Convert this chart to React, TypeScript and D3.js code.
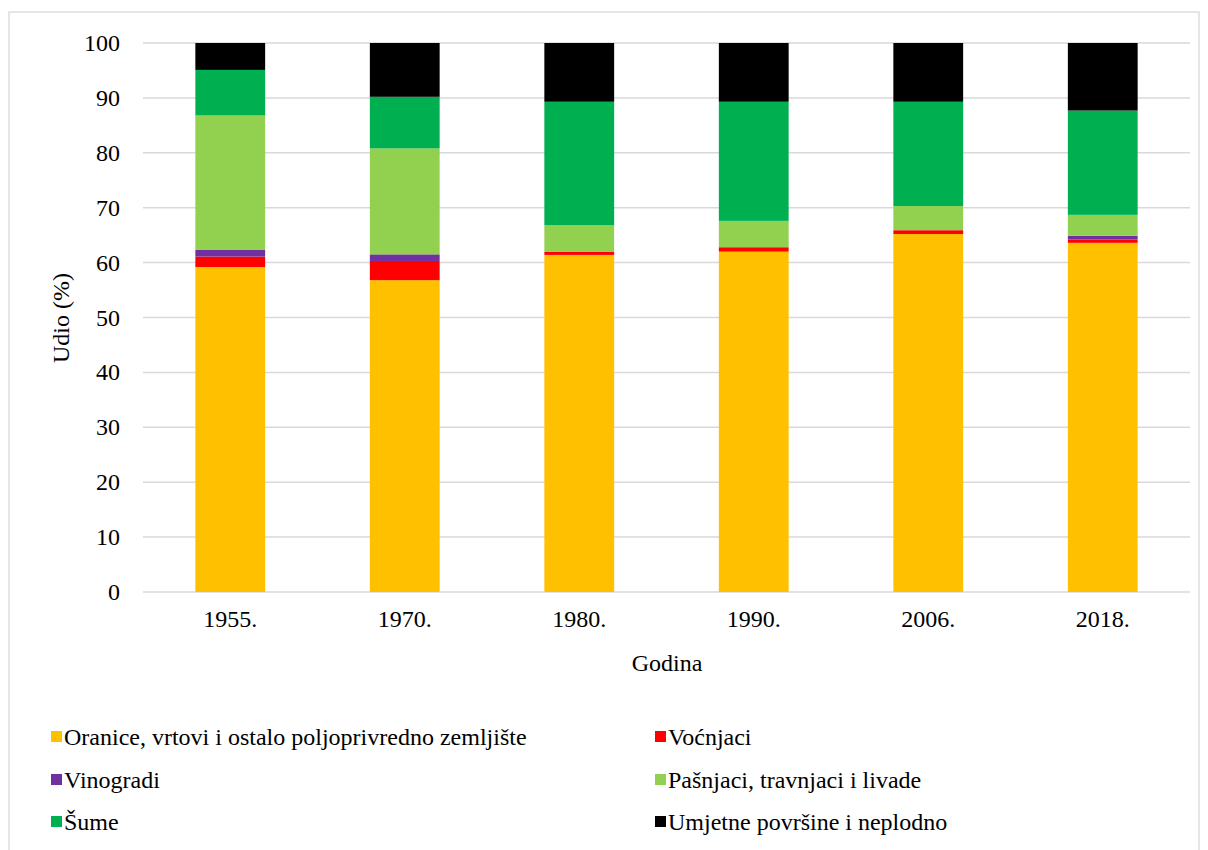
import React from "react";
import * as d3 from "d3";

const years = ["1955.", "1970.", "1980.", "1990.", "2006.", "2018."];
const oranice = [59.2, 56.8, 61.4, 62.0, 65.2, 63.6];
const vocnjaci = [1.9, 3.5, 0.6, 0.8, 0.7, 0.6];
const vinogradi = [1.2, 1.2, 0.0, 0.0, 0.0, 0.7];
const pasnjaci = [24.5, 19.3, 4.8, 4.8, 4.4, 3.8];
const sume = [8.3, 9.4, 22.5, 21.7, 19.0, 19.0];
const umjetne = [4.9, 9.8, 10.7, 10.7, 10.7, 12.3];
const yTicks = [0, 10, 20, 30, 40, 50, 60, 70, 80, 90, 100];

const seriesNames = [
  "Oranice, vrtovi i ostalo poljoprivredno zemljište",
  "Vo\u0107njaci",
  "Vinogradi",
  "Pa\u0161njaci, travnjaci i livade",
  "\u0160ume",
  "Umjetne povr\u0161ine i neplodno",
];
const seriesValues = [oranice, vocnjaci, vinogradi, pasnjaci, sume, umjetne];
const colors = ["#FFC000", "#FF0000", "#7030A0", "#92D050", "#00B050", "#000000"];

const fam = "Liberation Serif";

export default function App() {
  const W = 1208;
  const H = 850;
  const left = 143;
  const right = 1190;
  const top = 43;
  const bottom = 592;

  const x = d3.scaleBand<string>().domain(years).range([left, right]).paddingInner(0.6).paddingOuter(0.3);
  const y = d3.scaleLinear().domain([0, 100]).range([bottom, top]);

  const rows = years.map((yr, i) => {
    const r: any = { year: yr };
    seriesNames.forEach((s, k) => (r[s] = seriesValues[k][i]));
    return r;
  });
  const stack = d3.stack<any>().keys(seriesNames)(rows);

  return (
    <svg width={W} height={H}>
      <rect x={1} y={4} width={1190} height={840} fill="none" stroke="#d9d9d9" strokeWidth={1.3} />
      <g transform="translate(-8,-8)">
        {yTicks.map((t) => (
          <g key={t}>
            <line x1={left} x2={right} y1={y(t)} y2={y(t)} stroke="#d9d9d9" strokeWidth={1.5} />
            <text x={120} y={y(t) + 8} fontSize={24} textAnchor="end" style={{ fontFamily: `"${fam}"` }}>
              {t}
            </text>
          </g>
        ))}
        {stack.map((layer, k) => (
          <g key={k} fill={colors[k]}>
            {layer.map((d, i) => (
              <rect
                key={i}
                x={x(years[i])}
                width={x.bandwidth()}
                y={y(d[1])}
                height={Math.max(0, y(d[0]) - y(d[1]))}
              />
            ))}
          </g>
        ))}
        {years.map((yr) => (
          <text
            key={yr}
            x={(x(yr) as number) + x.bandwidth() / 2}
            y={627}
            fontSize={24}
            textAnchor="middle"
            style={{ fontFamily: `"${fam}"` }}
          >
            {yr}
          </text>
        ))}
        <text x={667} y={671} fontSize={24} textAnchor="middle" style={{ fontFamily: `"${fam}"` }}>
          Godina
        </text>
        <text
          transform={`translate(69,318) rotate(-90)`}
          fontSize={24}
          textAnchor="middle"
          style={{ fontFamily: `"${fam}"` }}
        >
          Udio (%)
        </text>
        {seriesNames.map((s, k) => {
          const col = k % 2;
          const row = Math.floor(k / 2);
          const lx = col === 0 ? 51 : 655;
          const ly = [737, 780, 822][row];
          return (
            <g key={s}>
              <rect x={lx} y={ly - 6} width={11} height={11} fill={colors[k]} />
              <text x={lx + 13} y={ly + 8} fontSize={24} style={{ fontFamily: `"${fam}"` }}>
                {s}
              </text>
            </g>
          );
        })}
      </g>
    </svg>
  );
}
